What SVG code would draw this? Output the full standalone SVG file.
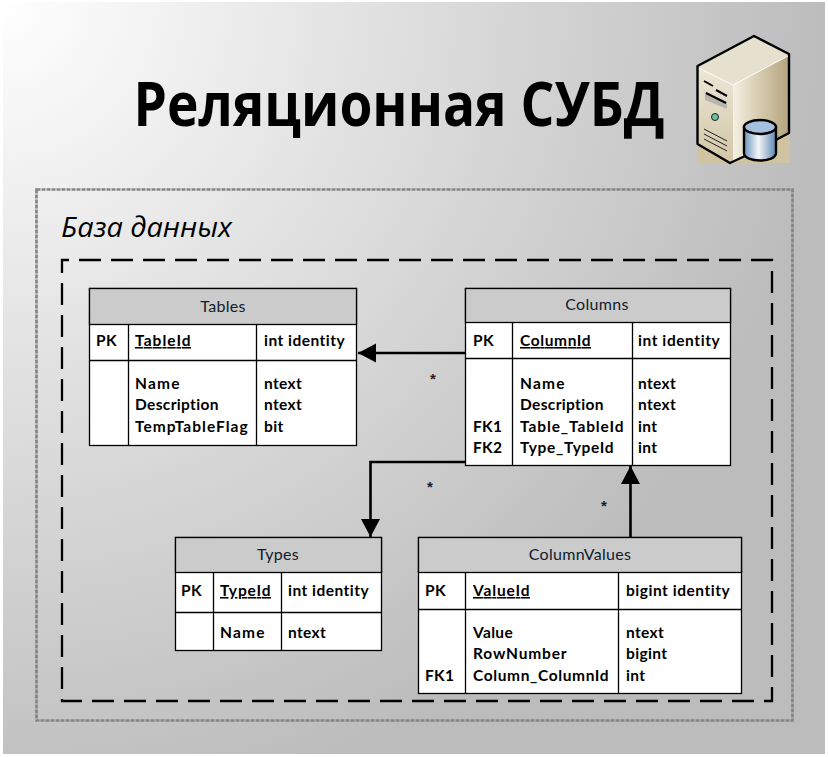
<svg xmlns="http://www.w3.org/2000/svg" width="828" height="757" viewBox="0 0 828 757">
<defs>
<radialGradient id="bg" gradientUnits="userSpaceOnUse" cx="0" cy="0" r="830"><stop offset="0" stop-color="#ffffff"/><stop offset="1" stop-color="#bcbcbc"/></radialGradient>
<linearGradient id="case" gradientUnits="userSpaceOnUse" x1="733" y1="0" x2="789" y2="0"><stop offset="0" stop-color="#f4f0e4"/><stop offset="0.25" stop-color="#e4dcc6"/><stop offset="1" stop-color="#b5a47c"/></linearGradient>
<linearGradient id="front" gradientUnits="userSpaceOnUse" x1="0" y1="66" x2="0" y2="163"><stop offset="0" stop-color="#ece7d8"/><stop offset="1" stop-color="#d2c6a6"/></linearGradient>
<linearGradient id="cyl" x1="0" y1="0" x2="1" y2="0"><stop offset="0" stop-color="#6c93bd"/><stop offset="0.45" stop-color="#f2f6fa"/><stop offset="1" stop-color="#5f88b3"/></linearGradient>
<marker id="arr" markerUnits="userSpaceOnUse" markerWidth="19" markerHeight="20" refX="18" refY="10" orient="auto"><path d="M0 0.500L18 10L0 19.500Z" fill="#000"/></marker>
</defs>
<style>
.t{font-family:"Lato","Open Sans","Liberation Sans",sans-serif;fill:#000}
.b{font-weight:700;font-size:15.5px;letter-spacing:.35px}
.h{font-size:16px;fill:#10202e;text-anchor:middle;letter-spacing:.3px}
.u{text-decoration:underline}
.box{fill:#fff;stroke:#000;stroke-width:1.3}
.head{fill:#cbcbcb;stroke:#000;stroke-width:1.3}
.ln{stroke:#000;stroke-width:1.3;fill:none}
.s{font-size:15px;text-anchor:middle;font-family:"Liberation Sans",sans-serif;font-weight:700}
.c{fill:none;stroke:#000;stroke-width:2.6}
</style>
<rect x="0" y="0" width="828" height="757" fill="#fff"/>
<rect x="3" y="2" width="822" height="752" fill="url(#bg)"/>
<text x="399" y="126" text-anchor="middle" style="font-family:'Open Sans','Liberation Sans',sans-serif;font-weight:700;font-size:60px;fill:#000" textLength="531" lengthAdjust="spacingAndGlyphs">Реляционная СУБД</text>
<g id="server">
<path d="M698 163V66L754 36L790 54V163Z" fill="#cfc3a2"/>
<path d="M698 67L733 85V163L698 144Z" fill="url(#front)"/>
<path d="M733 85L789 55V134L733 163Z" fill="url(#case)"/>
<path d="M698 67L754 37L789 55L733 85Z" fill="#e6e0ce"/>
<path d="M697.500 66L754 36L789 54V133L745 156L730 163L697.500 144Z" fill="none" stroke="#000" stroke-width="2.400" stroke-linejoin="round"/>
<path d="M699 68L733 85L788 56" fill="none" stroke="#fff" stroke-width="1"/>
<path d="M704 90L727 100V109L704 99Z" fill="#dcd8cc"/>
<path d="M705 92L727 102L727 109L705 100Z" fill="#9f9f98" opacity=".6"/>
<path d="M704 81L713 86M716 90L727 96M706 93L726 103" stroke="#000" stroke-width="2"/>
<circle cx="715" cy="117" r="3.500" fill="#6fbf98" stroke="#123" stroke-width="1"/>
<path d="M704 129L727 141M704 134L727 146M704 139L727 151" stroke="#222" stroke-width="1"/>
<path d="M744 127V153C744 163 776 163 776 153V127Z" fill="url(#cyl)" stroke="#000" stroke-width="2.400"/>
<ellipse cx="760" cy="127" rx="16" ry="7" fill="#a3c0de" stroke="#000" stroke-width="2.400"/>
</g>
<rect x="36.500" y="189.500" width="756" height="531" fill="none" stroke="#858585" stroke-width="2.700" stroke-dasharray="4 1"/>
<text x="61" y="237" style="font-family:'Open Sans','Liberation Sans',sans-serif;font-style:italic;font-size:27px;fill:#000" textLength="171" lengthAdjust="spacingAndGlyphs">База данных</text>
<rect x="62" y="260" width="710" height="441" fill="none" stroke="#000" stroke-width="2.300" stroke-dasharray="22 10" stroke-dashoffset="15"/>
<g id="connectors">
<path class="c" d="M466 353H358" marker-end="url(#arr)"/>
<path class="c" d="M466 462H370.500V537" marker-end="url(#arr)"/>
<path class="c" d="M630.500 537V466" marker-end="url(#arr)"/>
<text class="s" x="433" y="384" fill="#3a1a10">*</text>
<text class="s" x="430" y="492" fill="#102030">*</text>
<text class="s" x="604" y="511" fill="#102030">*</text>
</g>
<g id="tables">
<rect class="box" x="89.500" y="288.500" width="267" height="157"/>
<rect class="head" x="89.500" y="288.500" width="267" height="36"/>
<path class="ln" d="M89.500 360.500H356.500M128.500 324.500V445.500M256.500 324.500V445.500"/>
<text class="t h" x="223" y="312">Tables</text>
<text class="t b" x="96" y="346">PK</text>
<text class="t b u" x="135" y="346" textLength="56">TableId</text>
<text class="t b" x="264" y="346" textLength="81">int identity</text>
<text class="t b" x="135" y="389" textLength="45">Name</text><text class="t b" x="264" y="389">ntext</text>
<text class="t b" x="135" y="410">Description</text><text class="t b" x="264" y="410">ntext</text>
<text class="t b" x="135" y="432" textLength="113">TempTableFlag</text><text class="t b" x="264" y="432">bit</text>
</g>
<g id="columns">
<rect class="box" x="465.500" y="288.500" width="265" height="177"/>
<rect class="head" x="465.500" y="288.500" width="265" height="34"/>
<path class="ln" d="M465.500 358.500H730.500M512.500 322.500V465.500M632.500 322.500V465.500"/>
<text class="t h" x="597" y="310">Columns</text>
<text class="t b" x="473" y="346">PK</text>
<text class="t b u" x="520" y="346" textLength="71">ColumnId</text>
<text class="t b" x="638" y="346" textLength="82">int identity</text>
<text class="t b" x="520" y="389" textLength="45">Name</text><text class="t b" x="638" y="389">ntext</text>
<text class="t b" x="520" y="410">Description</text><text class="t b" x="638" y="410">ntext</text>
<text class="t b" x="473" y="432">FK1</text><text class="t b" x="520" y="432" textLength="104">Table_TableId</text><text class="t b" x="638" y="432">int</text>
<text class="t b" x="473" y="453">FK2</text><text class="t b" x="520" y="453" textLength="94">Type_TypeId</text><text class="t b" x="638" y="453">int</text>
</g>
<g id="types">
<rect class="box" x="175.500" y="537.500" width="206" height="113"/>
<rect class="head" x="175.500" y="537.500" width="206" height="35"/>
<path class="ln" d="M175.500 612.500H381.500M213.500 572.500V650.500M281.500 572.500V650.500"/>
<text class="t h" x="278" y="560">Types</text>
<text class="t b" x="181" y="596">PK</text>
<text class="t b u" x="220" y="596" textLength="51">TypeId</text>
<text class="t b" x="288" y="596" textLength="81">int identity</text>
<text class="t b" x="220" y="638" textLength="45">Name</text><text class="t b" x="288" y="638">ntext</text>
</g>
<g id="columnvalues">
<rect class="box" x="418.500" y="537.500" width="323" height="156"/>
<rect class="head" x="418.500" y="537.500" width="323" height="35"/>
<path class="ln" d="M418.500 609.500H741.500M465.500 572.500V693.500M618.500 572.500V693.500"/>
<text class="t h" x="580" y="560">ColumnValues</text>
<text class="t b" x="425" y="596">PK</text>
<text class="t b u" x="473" y="596" textLength="57">ValueId</text>
<text class="t b" x="626" y="596" textLength="104">bigint identity</text>
<text class="t b" x="473" y="638">Value</text><text class="t b" x="626" y="638">ntext</text>
<text class="t b" x="473" y="659" textLength="94">RowNumber</text><text class="t b" x="626" y="659">bigint</text>
<text class="t b" x="425" y="681">FK1</text><text class="t b" x="473" y="681" textLength="136">Column_ColumnId</text><text class="t b" x="626" y="681">int</text>
</g>
</svg>
